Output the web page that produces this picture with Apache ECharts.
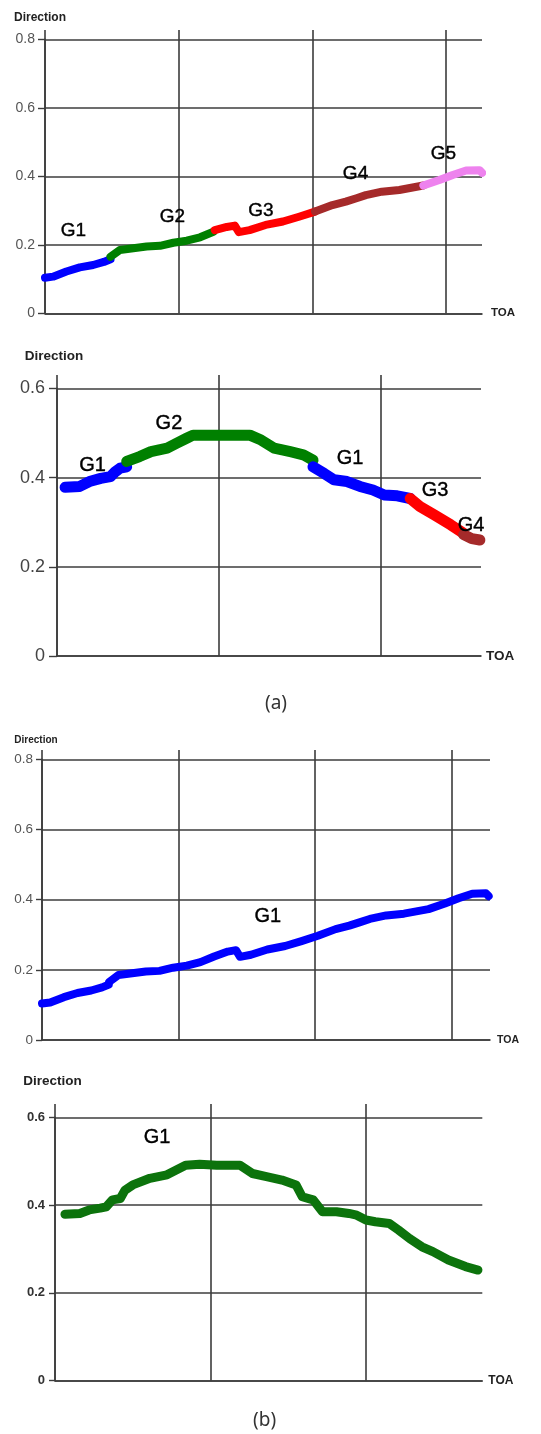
<!DOCTYPE html>
<html>
<head>
<meta charset="utf-8">
<script src="https://cdn.jsdelivr.net/npm/echarts@6/dist/echarts.min.js"></script>
<style>
html,body{margin:0;padding:0;background:#fff;}
#chart{width:541px;height:1434px;}
</style>
</head>
<body>
<div id="chart"></div>
<script>
// ---------- DATA ----------
// Panel (a) top: Direction vs TOA, groups G1..G5
const a1G1 = [[0,0.104],[0.06,0.107],[0.16,0.122],[0.26,0.134],[0.36,0.141],[0.44,0.150],[0.49,0.158]];
const a1G2 = [[0.49,0.165],[0.56,0.185],[0.66,0.190],[0.76,0.195],[0.86,0.197],[0.96,0.206],[1.06,0.212],[1.16,0.222],[1.26,0.238]];
const a1G3 = [[1.27,0.243],[1.36,0.252],[1.42,0.256],[1.45,0.237],[1.53,0.243],[1.65,0.258],[1.78,0.268],[1.90,0.282],[2.02,0.297]];
const a1G4 = [[2.02,0.297],[2.15,0.316],[2.25,0.326],[2.33,0.336],[2.40,0.345],[2.52,0.355],[2.65,0.360],[2.83,0.373]];
const a1G5 = [[2.83,0.373],[2.95,0.389],[3.05,0.404],[3.15,0.417],[3.25,0.418],[3.27,0.410]];
const a1LabelNames = ['G1','G2','G3','G4','G5'];
const a1LabelX = [0.212, 0.953, 1.615, 2.323, 2.981];
const a1LabelY = [0.242, 0.281, 0.298, 0.408, 0.465];

// Panel (a) bottom
const a2G1a = [[0.05,0.378],[0.14,0.380],[0.20,0.391],[0.27,0.398],[0.33,0.402],[0.36,0.413],[0.39,0.421],[0.43,0.424]];
const a2G2 = [[0.43,0.436],[0.51,0.447],[0.58,0.458],[0.68,0.466],[0.74,0.477],[0.80,0.488],[0.84,0.495],[1.19,0.495],[1.26,0.484],[1.34,0.466],[1.44,0.458],[1.52,0.451],[1.58,0.439]];
const a2G1b = [[1.58,0.424],[1.65,0.409],[1.71,0.395],[1.79,0.391],[1.87,0.380],[1.95,0.372],[2.02,0.361],[2.10,0.359],[2.18,0.353]];
const a2G3 = [[2.18,0.353],[2.24,0.335],[2.33,0.316],[2.43,0.294],[2.51,0.275]];
const a2G4 = [[2.51,0.272],[2.56,0.263],[2.61,0.260]];
const a2LabelNames = ['G1','G2','G1','G3','G4'];
const a2LabelX = [0.219, 0.691, 1.809, 2.333, 2.556];
const a2LabelY = [0.428, 0.522, 0.443, 0.372, 0.293];

// Panel (b) top: same track, one group
const b1G1 = [].concat(a1G1, a1G2, a1G3, a1G4, a1G5);
const b1LabelNames = ['G1'];
const b1LabelX = [1.653];
const b1LabelY = [0.351];

// Panel (b) bottom
const b2G1 = [[0.064,0.379],[0.16,0.381],[0.22,0.389],[0.29,0.393],[0.33,0.396],[0.37,0.412],[0.42,0.415],[0.45,0.434],[0.50,0.446],[0.61,0.461],[0.72,0.469],[0.78,0.480],[0.84,0.491],[0.93,0.493],[1.04,0.491],[1.14,0.491],[1.19,0.491],[1.27,0.472],[1.36,0.465],[1.46,0.457],[1.55,0.446],[1.59,0.419],[1.66,0.412],[1.72,0.385],[1.81,0.385],[1.89,0.381],[1.94,0.377],[2.00,0.366],[2.06,0.362],[2.15,0.358],[2.21,0.343],[2.28,0.324],[2.36,0.305],[2.43,0.294],[2.53,0.275],[2.64,0.260],[2.72,0.252]];
const b2LabelNames = ['G1'];
const b2LabelX = [0.656];
const b2LabelY = [0.554];

// ---------- STYLE / LAYOUT ----------
const C = {G1:'#0000ff', G2:'#008000', G3:'#ff0000', G4:'#a52a2a', G5:'#ee82ee', B2:'#0c730c'};
const gridColor = '#3c3c3c';

const panels = [
  { L:45, Ta:39.3, Tb:30, B:313.3, W:437, Wb:401, xmax:3.269, nb:3, ymax:0.8,
    lw:8, tick:7, lblMargin:10, lblSize:14, lblColor:'#555', lblWeight:'normal',
    dirSize:12, dirGap:16, dirShift:10, toaSize:11.5, toaGap:9, gSize:19,
    series:[[a1G1,C.G1],[a1G2,C.G2],[a1G3,C.G3],[a1G4,C.G4],[a1G5,C.G5]],
    labels:[a1LabelNames,a1LabelX,a1LabelY] },
  { L:57, Ta:388.3, Tb:375, B:656, W:424, Wb:324, xmax:2.617, nb:2, ymax:0.6,
    lw:11, tick:8, lblMargin:12, lblSize:18, lblColor:'#444', lblWeight:'normal',
    dirSize:13.5, dirGap:25, dirShift:6, toaSize:13.5, toaGap:5, gSize:20,
    series:[[a2G1a,C.G1],[a2G2,C.G2],[a2G1b,C.G1],[a2G3,C.G3],[a2G4,C.G4]],
    labels:[a2LabelNames,a2LabelX,a2LabelY] },
  { L:42, Ta:759.3, Tb:750, B:1040, W:448, Wb:409.7, xmax:3.28, nb:3, ymax:0.8,
    lw:8, tick:6, lblMargin:9, lblSize:13.5, lblColor:'#555', lblWeight:'normal',
    dirSize:10, dirGap:14, dirShift:12, toaSize:10.5, toaGap:7, gSize:20,
    series:[[b1G1,C.G1]],
    labels:[b1LabelNames,b1LabelX,b1LabelY] },
  { L:55, Ta:1117.3, Tb:1104, B:1380.7, W:427.3, Wb:311, xmax:2.748, nb:2, ymax:0.6,
    lw:9, tick:6, lblMargin:10, lblSize:13, lblColor:'#333', lblWeight:'bold',
    dirSize:13.5, dirGap:29, dirShift:5, toaSize:12, toaGap:6, gSize:20,
    series:[[b2G1,C.B2]],
    labels:[b2LabelNames,b2LabelX,b2LabelY] }
];

const grid = [], xAxis = [], yAxis = [], series = [];
panels.forEach((p, i) => {
  const ga = 2*i, gb = 2*i+1;
  grid.push({left:p.L, top:p.Ta, width:p.W, height:p.B - p.Ta});
  grid.push({left:p.L, top:p.Tb, width:p.Wb, height:p.B - p.Tb});
  xAxis.push({
    gridIndex:ga, type:'value', min:0, max:p.xmax,
    axisLine:{show:true, onZero:false, lineStyle:{color:gridColor, width:1.6}},
    axisTick:{show:false}, axisLabel:{show:false}, splitLine:{show:false},
    name:'TOA', nameLocation:'end', nameGap:p.toaGap,
    nameTextStyle:{fontFamily:'Liberation Sans, Arial, sans-serif', fontWeight:'bold', fontSize:p.toaSize, color:'#222'}
  });
  xAxis.push({
    gridIndex:gb, type:'value', min:0, max:p.nb, interval:1,
    axisLine:{show:false}, axisTick:{show:false}, axisLabel:{show:false},
    splitLine:{show:true, lineStyle:{color:gridColor, width:1.6}}
  });
  yAxis.push({
    gridIndex:ga, type:'value', min:0, max:p.ymax, interval:0.2,
    axisLine:{show:true, onZero:false, lineStyle:{color:gridColor, width:1.6}},
    axisTick:{show:true, length:p.tick, lineStyle:{color:gridColor, width:1.4}},
    axisLabel:{margin:p.lblMargin, fontSize:p.lblSize, color:p.lblColor, fontWeight:p.lblWeight,
      fontFamily:'Liberation Sans, Arial, sans-serif',
      formatter: v => (v === 0 ? '0' : v.toFixed(1))},
    splitLine:{show:true, lineStyle:{color:gridColor, width:1.6}},
    name:'Direction', nameLocation:'end', nameGap:p.dirGap,
    nameTextStyle:{fontFamily:'Liberation Sans, Arial, sans-serif', fontWeight:'bold', fontSize:p.dirSize, color:'#222', padding:[0, p.dirShift, 0, 0]}
  });
  yAxis.push({gridIndex:gb, type:'value', min:0, max:1, show:false});

  p.series.forEach(([d, col]) => {
    series.push({
      type:'line', xAxisIndex:ga, yAxisIndex:ga, data:d, showSymbol:false, symbol:'none',
      lineStyle:{color:col, width:p.lw, cap:'round', join:'round', opacity:1},
      silent:true, z:3
    });
  });
  const [names, lx, ly] = p.labels;
  series.push({
    type:'scatter', xAxisIndex:ga, yAxisIndex:ga, symbolSize:1,
    itemStyle:{opacity:0},
    data: names.map((n, k) => [lx[k], ly[k], n]),
    label:{show:true, position:'inside', formatter: q => q.data[2], opacity:1,
      fontFamily:'Liberation Sans, Arial, sans-serif', fontSize:p.gSize, color:'#000',
      textBorderColor:'#000', textBorderWidth:0.4},
    silent:true, z:5
  });
});

const chart = echarts.init(document.getElementById('chart'), null, {renderer:'canvas'});
chart.setOption({
  animation:false,
  backgroundColor:'#fff',
  grid, xAxis, yAxis, series,
  graphic:[
    {type:'text', left:265, top:694, style:{text:'(a)', fontSize:19, fontFamily:'Noto Sans, sans-serif', fill:'#333'}},
    {type:'text', left:253, top:1411, style:{text:'(b)', fontSize:19, fontFamily:'Noto Sans, sans-serif', fill:'#333'}}
  ]
});
</script>
</body>
</html>
